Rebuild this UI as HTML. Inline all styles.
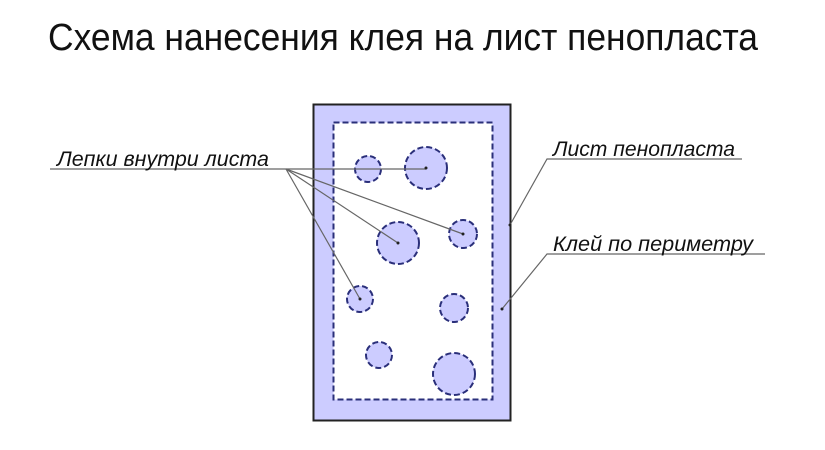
<!DOCTYPE html>
<html><head><meta charset="utf-8"><style>
html,body{margin:0;padding:0;background:#fff;width:825px;height:450px;overflow:hidden}
svg text{font-family:"Liberation Sans","DejaVu Sans",sans-serif}
</style></head><body>
<svg width="825" height="450" viewBox="0 0 825 450" xmlns="http://www.w3.org/2000/svg">
<text x="48" y="50" font-size="38" textLength="710" lengthAdjust="spacingAndGlyphs" fill="#111">Схема нанесения клея на лист пенопласта</text>
<rect x="313.5" y="104.5" width="197" height="316" fill="#ccccff" stroke="#222" stroke-width="2"/>
<rect x="333.5" y="122.5" width="159" height="277" fill="#fff" stroke="#2a2f7a" stroke-width="2" stroke-dasharray="6,3"/>
<g fill="#ccccff" stroke="#2a2f7a" stroke-width="2" stroke-dasharray="6,3">
<circle cx="368" cy="169" r="13"/>
<circle cx="426" cy="168" r="21"/>
<circle cx="398" cy="243" r="21"/>
<circle cx="463" cy="234" r="14"/>
<circle cx="360" cy="299" r="13"/>
<circle cx="454" cy="308" r="14"/>
<circle cx="379" cy="355" r="13"/>
<circle cx="454" cy="374" r="21"/>
</g>
<g stroke="#666" stroke-width="1.2" fill="none">
<line x1="50" y1="169" x2="426" y2="169"/>
<line x1="286" y1="169" x2="398" y2="243"/>
<line x1="286" y1="169" x2="463" y2="234"/>
<line x1="286" y1="169" x2="360" y2="299"/>
<polyline points="742,159 547,159 510,225"/>
<polyline points="765,254 547,254 502,309"/>
</g>
<g fill="#222"><circle cx="426" cy="168" r="1.5"/><circle cx="398" cy="243" r="1.5"/><circle cx="463" cy="234" r="1.5"/><circle cx="360" cy="299" r="1.5"/><circle cx="510" cy="225" r="1.5"/><circle cx="502" cy="309" r="1.5"/></g>
<g font-size="21" font-style="italic" fill="#111">
<text x="57" y="166" textLength="212" lengthAdjust="spacingAndGlyphs">Лепки внутри листа</text>
<text x="553" y="156" textLength="182" lengthAdjust="spacingAndGlyphs">Лист пенопласта</text>
<text x="553" y="251" textLength="200" lengthAdjust="spacingAndGlyphs">Клей по периметру</text>
</g>
</svg>
</body></html>
